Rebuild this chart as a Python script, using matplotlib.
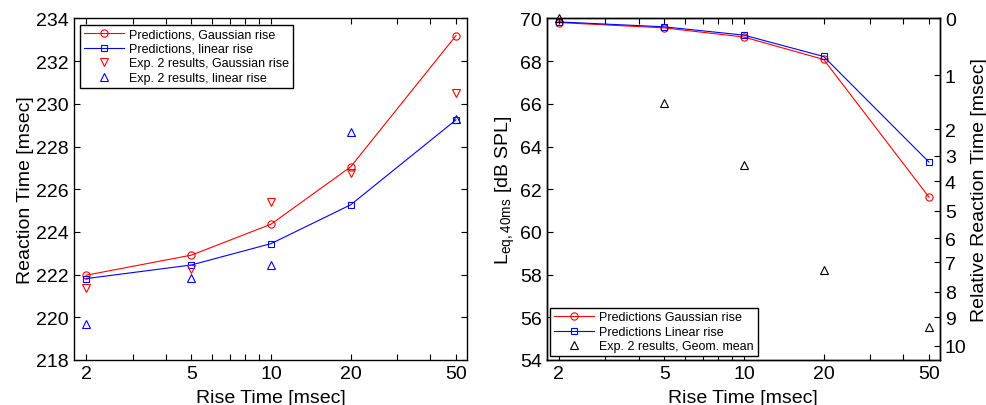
import numpy as np
import matplotlib
matplotlib.use("Agg")
import matplotlib.pyplot as plt
from matplotlib.ticker import FixedLocator, NullFormatter, FixedFormatter

plt.rcParams['font.family'] = ['Liberation Sans', 'DejaVu Sans']
plt.rcParams['mathtext.fontset'] = 'custom'
plt.rcParams['mathtext.rm'] = 'Liberation Sans'

# ---------------- data ----------------
rise_time = [2, 5, 10, 20, 50]

# left panel: reaction time [msec]
rt_pred_gauss = [221.97, 222.91, 224.36, 227.05, 233.20]
rt_pred_linear = [221.81, 222.45, 223.45, 225.27, 229.25]
rt_exp_gauss = [221.38, 222.28, 225.38, 226.78, 230.50]
rt_exp_linear = [219.70, 221.86, 222.44, 228.66, 229.28]

# right panel: Leq,40ms [dB SPL]
leq_pred_gauss = [69.81, 69.56, 69.13, 68.08, 61.63]
leq_pred_linear = [69.84, 69.61, 69.22, 68.22, 63.27]
# relative reaction time, geometric mean [msec]
rel_rt_geom = [0.0, 1.52, 3.34, 7.25, 9.35]

# right-axis calibration: relative RT tick values and their Leq positions
rel_rt_ticks = [0, 1, 2, 3, 4, 5, 6, 7, 8, 9, 10]
rel_rt_tick_leq = [70.0, 67.34, 64.80, 63.56, 62.37, 61.0, 59.71, 58.58, 57.19, 55.99, 54.67]

x_major = [2, 5, 10, 20, 50]
x_minor = [3, 4, 6, 7, 8, 9, 30, 40]


def _interp(x, xp, fp):
    x = np.asarray(x, float)
    xp = np.asarray(xp, float)
    fp = np.asarray(fp, float)
    y = np.interp(x, xp, fp)
    y = np.where(x < xp[0], fp[0] + (x - xp[0]) * (fp[1] - fp[0]) / (xp[1] - xp[0]), y)
    y = np.where(x > xp[-1], fp[-1] + (x - xp[-1]) * (fp[-1] - fp[-2]) / (xp[-1] - xp[-2]), y)
    return y


def rt_forward(rt):
    return -_interp(rt, rel_rt_ticks, rel_rt_tick_leq)


def rt_inverse(v):
    return _interp(-np.asarray(v, float), rel_rt_tick_leq[::-1], rel_rt_ticks[::-1])


fig = plt.figure(figsize=(9.86, 4.06), dpi=100)
ax1 = fig.add_axes([0.075, 0.111, 0.3986, 0.841])
ax2 = fig.add_axes([0.5545, 0.111, 0.3988, 0.841])

FS = 14
LFS = 9

MS_C = 5.2
MS_S = 4.8
MS_T = 6.2


def style_x(ax):
    ax.set_xscale('log')
    ax.set_xlim(1.8, 55)
    ax.xaxis.set_major_locator(FixedLocator(x_major))
    ax.xaxis.set_major_formatter(FixedFormatter([str(v) for v in x_major]))
    ax.xaxis.set_minor_locator(FixedLocator(x_minor))
    ax.xaxis.set_minor_formatter(NullFormatter())
    ax.set_xlabel('Rise Time [msec]', fontsize=FS, labelpad=5)
    for s in ax.spines.values():
        s.set_linewidth(1.0)


# ---------------- left panel ----------------
ax1.plot(rise_time, rt_pred_gauss, '-o', color='red', lw=0.8, ms=MS_C, mfc='none',
         mew=0.8, label='Predictions, Gaussian rise')
ax1.plot(rise_time, rt_pred_linear, '-s', color='blue', lw=0.8, ms=MS_S, mfc='none',
         mew=0.8, label='Predictions, linear rise')
ax1.plot(rise_time, rt_exp_gauss, 'v', color='red', ms=MS_T, mfc='none', mew=0.8,
         label='Exp. 2 results, Gaussian rise')
ax1.plot(rise_time, rt_exp_linear, '^', color='blue', ms=MS_T, mfc='none', mew=0.8,
         label='Exp. 2 results, linear rise')
style_x(ax1)
ax1.set_ylim(218, 234)
ax1.set_yticks(np.arange(218, 235, 2))
ax1.set_ylabel('Reaction Time [msec]', fontsize=FS, labelpad=2)
ax1.tick_params(which='both', direction='in', top=True, right=True, length=4,
                labelsize=FS, width=0.8)
leg1 = ax1.legend(loc='upper left', fontsize=LFS, frameon=True, fancybox=False,
                  edgecolor='black', framealpha=1, handlelength=3.2,
                  borderpad=0.3, labelspacing=0.2, borderaxespad=0.5,
                  handletextpad=0.4)
leg1.get_frame().set_linewidth(1.0)

# ---------------- right panel ----------------
ax2.plot(rise_time, leq_pred_gauss, '-o', color='red', lw=0.8, ms=MS_C, mfc='none',
         mew=0.8, label='Predictions Gaussian rise')
ax2.plot(rise_time, leq_pred_linear, '-s', color='blue', lw=0.8, ms=MS_S, mfc='none',
         mew=0.8, label='Predictions Linear rise')
style_x(ax2)
ax2.set_ylim(54, 70)
ax2.set_yticks(np.arange(54, 71, 2))
ax2.set_ylabel(r'$\mathrm{L}_{\mathrm{eq,40ms}}$ [dB SPL]', fontsize=FS, labelpad=2)
ax2.tick_params(which='both', direction='in', top=True, right=False, length=4,
                labelsize=FS, width=0.8)

ax3 = ax2.twinx()
ax3.set_yscale('function', functions=(rt_forward, rt_inverse))
ax3.set_ylim(float(rt_inverse(-54)), float(rt_inverse(-70)))
ax3.yaxis.set_major_locator(FixedLocator(rel_rt_ticks))
ax3.yaxis.set_major_formatter(FixedFormatter([str(v) for v in rel_rt_ticks]))
ax3.yaxis.set_minor_locator(FixedLocator([]))
ax3.plot(rise_time, rel_rt_geom, '^', color='black', ms=MS_T, mfc='none', mew=0.8,
         clip_on=False, label='Exp. 2 results, Geom. mean')
ax3.set_ylabel('Relative Reaction Time [msec]', fontsize=FS, labelpad=3)
ax3.tick_params(which='both', direction='in', length=4, labelsize=FS, width=0.8)
for s in ax3.spines.values():
    s.set_linewidth(1.0)

h2, l2 = ax2.get_legend_handles_labels()
h3, l3 = ax3.get_legend_handles_labels()
leg2 = ax3.legend(h2 + h3, l2 + l3, loc='lower left', fontsize=LFS, frameon=True,
                  fancybox=False, edgecolor='black', framealpha=1,
                  handlelength=3.2, borderpad=0.3, labelspacing=0.2,
                  borderaxespad=0.3, handletextpad=0.4)
leg2.get_frame().set_linewidth(1.0)

fig.savefig('out.png', dpi=100)
